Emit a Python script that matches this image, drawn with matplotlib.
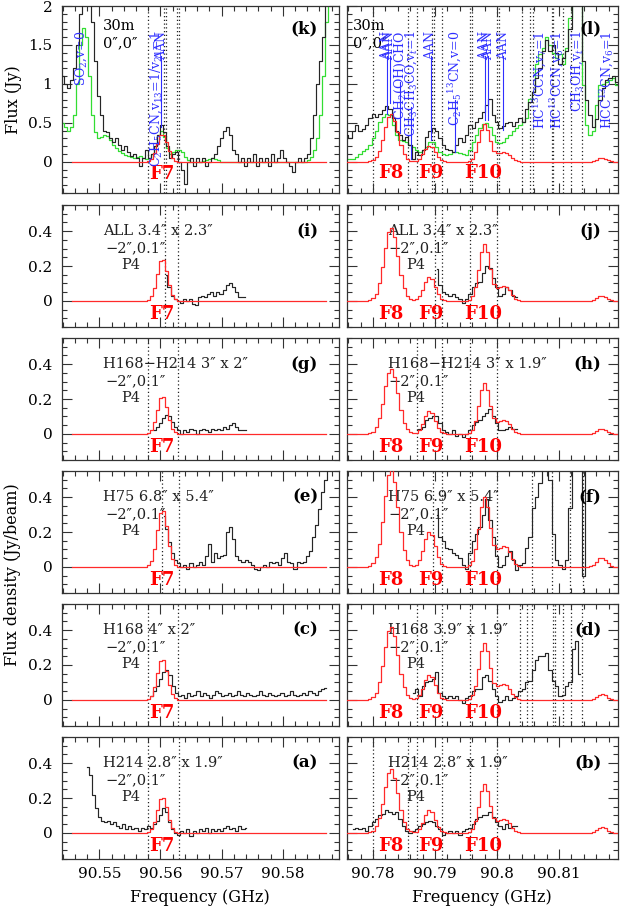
import numpy as np
import matplotlib
matplotlib.use('Agg')
import matplotlib.pyplot as plt
from matplotlib.ticker import MultipleLocator, FuncFormatter

plt.rcParams['font.family'] = ['DejaVu Serif', 'DejaVu Sans']
plt.rcParams['mathtext.fontset'] = 'dejavuserif'

# ---------------- data: left window (F7) ----------------
k_freq = (90.5439, 90.5892)
k_black = [1.1, 1.0, 0.95, 1.05, 1.2, 1.5, 1.9, 2.2, 2.2, 2.2, 1.8, 1.3, 0.85, 0.6, 0.4,
           0.38, 0.3, 0.25, 0.3, 0.22, 0.15, 0.2, 0.12, 0.08, 0.1, 0.05, -0.05, 0.05, 0.15,
           0.05, 0.1, 0.2, 0.35, 0.47, 0.38, 0.2, 0.05, 0.1, 0.13, 0.0, -0.1, -0.28, 0.0,
           0.05, -0.05, 0.05, 0.0, 0.05, -0.05, 0.0, 0.05, 0.1, 0.2, 0.3, 0.4, 0.45, 0.35,
           0.15, 0.1, 0.0, 0.05, -0.05, 0.05, 0.0, 0.1, -0.05, 0.05, 0.0, 0.05, -0.05, 0.1,
           0.0, 0.05, 0.15, 0.05, 0.0, -0.05, -0.13, 0.0, 0.05, 0.0, 0.05, 0.1, 0.3, 0.6,
           1.0, 1.3, 1.6, 2.2, 2.2, 2.2, 2.2, 2.2]
k_green = [0.5, 0.45, 0.4, 0.45, 0.6, 1.0, 1.5, 1.72, 1.6, 1.1, 0.6, 0.38, 0.3, 0.32, 0.35,
           0.33, 0.28, 0.22, 0.18, 0.14, 0.11, 0.09, 0.07, 0.06, 0.05, 0.06, 0.07, 0.05,
           0.03, 0.05, 0.1, 0.2, 0.35, 0.4, 0.32, 0.18, 0.1, 0.12, 0.15, 0.15, 0.12, 0.06,
           0.02, 0.0, 0.0, 0.0, 0.0, 0.01, 0.02, 0.04, 0.05, 0.04, 0.02, 0.0,
           0.0, 0.0, 0.0, 0.0, 0.0, 0.0, 0.0, 0.0, 0.0, 0.0, 0.0, 0.0, 0.0, 0.0,
           0.0, 0.0, 0.0, 0.0, 0.0, 0.0, 0.0, 0.0, 0.0, 0.0, 0.0, 0.0, 0.0, 0.0,
           0.02, 0.06, 0.15, 0.3, 0.6, 1.1, 1.8, 2.2, 2.2, 2.2, 2.2]

i_freq = (90.5609, 90.5739)
i_black = [0.15, 0.08, 0.03, 0.01, 0.0, -0.01, 0.01, 0.0, 0.01, -0.02, -0.025, 0.02, 0.03,
           0.02, 0.04, 0.05, 0.03, 0.05, 0.04, 0.06, 0.09, 0.105, 0.08, 0.05, 0.02, 0.02, 0.02]

g_freq = (90.5590, 90.5740)
g_black = [0.02, 0.04, 0.06, 0.09, 0.11, 0.1, 0.07, 0.04, 0.02, 0.0, 0.02, 0.01, 0.03, 0.02,
           0.0, 0.02, 0.03, 0.02, 0.01, 0.03, 0.02, 0.03, 0.02, 0.04, 0.03, 0.05, 0.06, 0.04,
           0.02, 0.02, 0.02]

e_freq = (90.5605, 90.5890)
e_black = [0.29, 0.22, 0.14, 0.08, 0.04, 0.02, 0.0, 0.01, -0.01, 0.02, 0.0, 0.01, 0.03, 0.01,
           0.06, 0.13, 0.03, 0.08, 0.05, 0.06, 0.07, 0.2, 0.23, 0.16, 0.06, 0.04, 0.03, 0.04,
           0.03, 0.01, -0.01, -0.02, 0.0, 0.01, 0.0, 0.03, 0.02, 0.03, 0.01, 0.05, 0.08, 0.03,
           0.02, -0.01, 0.03, 0.02, 0.03, 0.06, 0.09, 0.17, 0.24, 0.33, 0.43, 0.5, 0.62, 0.7,
           0.75, 0.8]

c_freq = (90.5585, 90.5870)
c_black = [0.02, 0.05, 0.08, 0.12, 0.16, 0.17, 0.14, 0.08, 0.04, 0.02, 0.03, 0.01, 0.04, 0.02,
           0.03, 0.05, 0.02, 0.04, 0.03, 0.01, 0.03, 0.05, 0.04, 0.02, 0.03, 0.04, 0.02, 0.03,
           0.05, 0.03, 0.02, 0.04, 0.03, 0.02, 0.03, 0.05, 0.03, 0.02, 0.04, 0.03, 0.02, 0.03,
           0.04, 0.02, 0.03, 0.05, 0.03, 0.02, 0.03, 0.04, 0.03, 0.05, 0.04, 0.03, 0.05, 0.06,
           0.07]

a_freq = (90.5480, 90.5740)
a_black = [0.38, 0.33, 0.22, 0.14, 0.09, 0.07, 0.06, 0.07, 0.05, 0.06, 0.04, 0.03, 0.05, 0.02,
           0.04, 0.02, 0.03, 0.01, 0.03, 0.02, 0.04, 0.03, 0.05, 0.07, 0.1, 0.14, 0.12, 0.06,
           0.02, 0.0, -0.01, 0.01, 0.0, 0.02, -0.02, 0.01, 0.0, 0.02, 0.01, 0.03, 0.0, 0.02,
           0.01, 0.02, 0.01, 0.03, 0.04, 0.02, 0.03, 0.01, 0.04, 0.02, 0.03]

# red model, left window: zero outside F7 block (block starts at 90.5570, step 0.0005)
red_left_span = (90.5455, 90.5870)
red_F7_start = 90.5570
red_k = [0, 0.002, 0.009, 0.038, 0.112, 0.231, 0.34, 0.35, 0.256, 0.133, 0.049, 0.013, 0.002, 0, 0]
red_i = [0, 0.001, 0.006, 0.026, 0.075, 0.154, 0.227, 0.234, 0.171, 0.089, 0.033, 0.008, 0.001, 0, 0]
red_g = [0, 0.001, 0.005, 0.023, 0.067, 0.139, 0.204, 0.21, 0.153, 0.08, 0.029, 0.008, 0.001, 0, 0]
red_e = [0, 0.001, 0.008, 0.035, 0.102, 0.21, 0.308, 0.318, 0.232, 0.121, 0.045, 0.011, 0.002, 0, 0]
red_c = [0, 0.001, 0.006, 0.025, 0.074, 0.152, 0.223, 0.23, 0.168, 0.087, 0.032, 0.008, 0.001, 0, 0]
red_a = [0, 0.001, 0.005, 0.022, 0.064, 0.132, 0.194, 0.2, 0.146, 0.076, 0.028, 0.007, 0.001, 0, 0]

# ---------------- data: right window (F8, F9, F10) ----------------
l_freq = (90.77576, 90.81931)
l_black = [0.34, 0.3, 0.4, 0.47, 0.4, 0.42, 0.47, 0.56, 0.62, 0.58, 0.62, 0.66, 0.72, 0.68,
           0.56, 0.4, 0.34, 0.28, 0.32, 0.21, 0.04, 0.13, 0.09, 0.15, 0.32, 0.39, 0.43, 0.4,
           0.3, 0.21, 0.17, 0.15, 0.13, 0.21, 0.3, 0.26, 0.34, 0.47, 0.43, 0.51, 0.56, 0.64,
           0.73, 0.81, 0.6, 0.51, 0.43, 0.46, 0.5, 0.51, 0.46, 0.51, 0.56, 0.51, 0.68, 0.77,
           0.9, 1.07, 1.2, 1.42, 1.56, 1.42, 1.5, 1.4, 1.25, 1.33, 1.42, 1.7, 2.2, 2.2, 2.2,
           1.3, 0.8, 0.6, 0.45, 0.55, 0.8, 0.95, 1.05, 1.07, 1.1, 1.03]
l_green = [0.04, 0.04, 0.04, 0.06, 0.1, 0.14, 0.17, 0.22, 0.3, 0.4, 0.51, 0.58, 0.62, 0.6,
           0.47, 0.34, 0.28, 0.27, 0.26, 0.22, 0.19, 0.15, 0.13, 0.15, 0.19, 0.25, 0.25, 0.19,
           0.13, 0.1, 0.09, 0.1, 0.13, 0.12, 0.11, 0.1, 0.09, 0.15, 0.26, 0.35, 0.43, 0.48,
           0.5, 0.45, 0.34, 0.26, 0.24, 0.26, 0.3, 0.34, 0.39, 0.43, 0.47, 0.51, 0.56, 0.81,
           0.9, 1.25, 1.38, 1.46, 1.6, 1.5, 1.4, 1.33, 1.38, 1.25, 1.46, 1.85, 2.2, 2.2, 2.2,
           0.98, 0.47, 0.34, 0.39, 0.73, 0.98, 1.0, 1.02, 1.05, 1.07, 0.98]

j_freq = (90.79027, 90.80317)
j_black = [0.18, 0.09, 0.05, 0.04, 0.03, 0.04, 0.02, 0.01, -0.01, 0.01, 0.04, 0.08, 0.1, 0.11,
           0.16, 0.2, 0.19, 0.13, 0.08, 0.03, 0.04, 0.08, 0.06, 0.03, 0.02]

h_freq = (90.78705, 90.80317)
h_black = [0.02, 0.03, 0.04, 0.08, 0.09, 0.1, 0.1, 0.06, 0.02, 0.01, 0.0, 0.02, -0.01, 0.0,
           -0.02, 0.0, 0.02, 0.05, 0.07, 0.08, 0.1, 0.12, 0.14, 0.1, 0.06, 0.02, 0.02, 0.03,
           0.04, 0.03, 0.03]

f_freq = (90.79027, 90.81447)
f_black = [0.3, 0.17, 0.15, 0.11, 0.1, 0.08, 0.07, 0.05, 0.01, -0.01, 0.08, 0.15, 0.19, 0.23,
           0.3, 0.39, 0.27, 0.17, 0.06, 0.0, 0.01, 0.06, 0.09, 0.04, -0.02, 0.01, 0.02, 0.11,
           0.17, 0.34, 0.4, 0.48, 0.6, 0.6, 0.5, 0.19, 0.04, 0.01, -0.01, 0.04, 0.34, 0.6,
           0.6, 0.6, -0.05, 0.6]

d_freq = (90.7865, 90.81339)
d_black = [0.04, 0.06, 0.02, 0.08, 0.1, 0.11, 0.12, 0.16, 0.04, 0.02, 0.01, 0.02, 0.01, 0.02,
           0.0, -0.02, 0.01, 0.02, 0.05, 0.06, 0.06, 0.13, 0.14, 0.11, 0.06, 0.02, -0.01, 0.0,
           0.02, 0.0, 0.01, 0.02, 0.05, 0.06, 0.1, 0.11, 0.17, 0.23, 0.25, 0.25, 0.27, 0.17,
           0.11, 0.08, 0.02, 0.03, 0.08, 0.1, 0.29, 0.34, 0.15]

b_freq = (90.77683, 90.80317)
b_black = [0.02, 0.03, 0.02, 0.03, 0.01, 0.04, 0.06, 0.08, 0.1, 0.11, 0.13, 0.12, 0.11, 0.12,
           0.08, 0.04, 0.01, 0.0, 0.01, 0.02, 0.04, 0.05, 0.06, 0.07, 0.06, 0.04, 0.02, -0.01,
           0.0, 0.01, 0.0, 0.01, -0.01, 0.01, 0.02, 0.03, 0.05, 0.08, 0.09, 0.1, 0.1, 0.12,
           0.09, 0.06, 0.04, 0.02, 0.05, 0.03, 0.04, 0.04]

# red model, right window (F8-F10 block from 90.7790, bump block from 90.8150; step 0.0005)
red_right_span = (90.7755, 90.8195)
red_FB_start = 90.7790
red_bump_start = 90.8150
red_l = [0.001, 0.006, 0.021, 0.062, 0.145, 0.279, 0.442, 0.572, 0.608, 0.528, 0.377, 0.22,
         0.105, 0.041, 0.014, 0.006, 0.012, 0.039, 0.095, 0.165, 0.209, 0.189, 0.123, 0.058,
         0.019, 0.005, 0.001, 0, 0, 0, 0, 0, 0.002, 0.01, 0.041, 0.12, 0.259, 0.411, 0.48,
         0.411, 0.265, 0.144, 0.107, 0.112, 0.122, 0.114, 0.084, 0.046, 0.018, 0.005, 0.001, 0, 0]
red_l_bump = [0.003, 0.011, 0.027, 0.044, 0.05, 0.038, 0.02, 0.007, 0.002]
red_j = [0.001, 0.004, 0.015, 0.042, 0.1, 0.192, 0.304, 0.394, 0.418, 0.364, 0.26, 0.151,
         0.072, 0.029, 0.009, 0.004, 0.008, 0.026, 0.063, 0.11, 0.139, 0.126, 0.082, 0.038,
         0.013, 0.003, 0.001, 0, 0, 0, 0, 0, 0.001, 0.007, 0.028, 0.081, 0.176, 0.279, 0.325,
         0.279, 0.18, 0.098, 0.075, 0.079, 0.086, 0.081, 0.06, 0.032, 0.013, 0.003, 0.001, 0, 0]
red_j_bump = [0.002, 0.007, 0.016, 0.026, 0.03, 0.023, 0.012, 0.004, 0.001]
red_h = [0.001, 0.004, 0.013, 0.038, 0.089, 0.172, 0.272, 0.352, 0.374, 0.325, 0.232, 0.135,
         0.065, 0.026, 0.008, 0.004, 0.007, 0.024, 0.059, 0.102, 0.129, 0.117, 0.076, 0.036,
         0.012, 0.003, 0.001, 0, 0, 0, 0, 0, 0.001, 0.006, 0.025, 0.073, 0.157, 0.249, 0.29,
         0.249, 0.161, 0.089, 0.069, 0.074, 0.081, 0.076, 0.056, 0.03, 0.012, 0.003, 0.001, 0, 0]
red_h_bump = [0.002, 0.007, 0.016, 0.026, 0.03, 0.023, 0.012, 0.004, 0.001]
red_f = [0.001, 0.006, 0.02, 0.057, 0.133, 0.256, 0.405, 0.525, 0.558, 0.485, 0.346, 0.202,
         0.096, 0.038, 0.013, 0.005, 0.012, 0.037, 0.09, 0.158, 0.199, 0.18, 0.117, 0.055,
         0.018, 0.004, 0.001, 0, 0, 0, 0, 0, 0.002, 0.008, 0.034, 0.1, 0.216, 0.343, 0.4,
         0.343, 0.222, 0.124, 0.1, 0.11, 0.122, 0.114, 0.084, 0.046, 0.018, 0.005, 0.001, 0, 0]
red_f_bump = [0.003, 0.012, 0.029, 0.048, 0.053, 0.041, 0.021, 0.007, 0.002]
red_d = [0.001, 0.004, 0.015, 0.042, 0.1, 0.192, 0.304, 0.394, 0.418, 0.364, 0.26, 0.151,
         0.072, 0.029, 0.009, 0.004, 0.008, 0.026, 0.064, 0.113, 0.142, 0.129, 0.084, 0.039,
         0.013, 0.003, 0.001, 0, 0, 0, 0, 0, 0.001, 0.007, 0.028, 0.081, 0.175, 0.278, 0.324,
         0.278, 0.18, 0.099, 0.078, 0.084, 0.091, 0.086, 0.063, 0.034, 0.014, 0.004, 0.001, 0, 0]
red_d_bump = [0.002, 0.007, 0.018, 0.03, 0.034, 0.026, 0.013, 0.005, 0.001]
red_b = [0.001, 0.004, 0.013, 0.037, 0.087, 0.168, 0.265, 0.343, 0.365, 0.317, 0.226, 0.132,
         0.063, 0.025, 0.008, 0.004, 0.007, 0.024, 0.059, 0.102, 0.129, 0.117, 0.076, 0.036,
         0.012, 0.003, 0.001, 0, 0, 0, 0, 0, 0.001, 0.006, 0.024, 0.07, 0.151, 0.24, 0.28,
         0.24, 0.155, 0.086, 0.068, 0.074, 0.081, 0.076, 0.056, 0.03, 0.012, 0.003, 0.001, 0, 0]
red_b_bump = [0.002, 0.007, 0.018, 0.03, 0.034, 0.026, 0.013, 0.005, 0.001]

# dotted markers (GHz)
dots_k = [90.5579, 90.5605, 90.5609, 90.5627, 90.5630]
dots_i = [90.5608, 90.5628]
dots_g = [90.5579, 90.5628]
dots_e = [90.5603, 90.5630]
dots_c = [90.5579, 90.5628]
dots_a = [90.5579, 90.5630]
dots_l = [90.78, 90.7856, 90.7871, 90.7895, 90.7898, 90.7911, 90.7956, 90.7959, 90.8, 90.8003,
          90.8040, 90.8053, 90.8058, 90.8088, 90.8090, 90.8106, 90.8119, 90.8137]
dots_j = [90.79, 90.7911, 90.7956, 90.8]
dots_h = [90.7871, 90.7911, 90.7956, 90.8]
dots_f = [90.7896, 90.7911, 90.7956, 90.8, 90.8056, 90.8088, 90.8118, 90.8139]
dots_d = [90.7871, 90.7911, 90.7956, 90.8, 90.8037, 90.8048, 90.8056, 90.8090, 90.8093,
          90.8106, 90.8119, 90.8137]
dots_b = [90.78, 90.7856, 90.7871, 90.7911, 90.7956, 90.8]

# line identifications (freq, label, line top, line bottom) in Jy
ids_k = [(90.54705, r'SO$_2$,v=0', None, None),
         (90.55934, r'C$_2$H$_5$CN,v$_{13}$=1/v$_{21}$=1', None, None),
         (90.56016, 'AAN', 1.36, 0.45)]
ids_l = [(90.78221, 'AAN', 1.36, 0.61),
         (90.78274, 'AAN', 1.36, 0.76),
         (90.78435, r'CH$_2$(OH)CHO', 1.03, 0.37),
         (90.78613, r'CH$_3$CH$_3$CO,v$_t$=1', 0.70, 0.03),
         (90.78935, 'AAN', 1.36, 0.28),
         (90.79323, r'C$_2$H$_5$$^{13}$CN,v=0', 0.80, 0.13),
         (90.79806, 'AAN', 1.36, 0.54),
         (90.79855, 'AAN', 1.36, 0.54),
         (90.80097, 'AAN', 1.36, 0.41),
         (90.80694, r'HC$^{13}$CCN,v$_7$=1', None, None),
         (90.80968, r'HC$^{13}$CCN,v$_6$=1', None, None),
         (90.81290, r'CH$_3$OH,v$_t$=1', None, None),
         (90.81774, r'HCC$^{13}$CN,v$_6$=1', None, None)]

info = {
    'i': ['ALL 3.4\u2033 x 2.3\u2033'], 'j': ['ALL 3.4\u2033 x 2.3\u2033'],
    'g': ['H168\u2212H214 3\u2033 x 2\u2033'], 'h': ['H168\u2212H214 3\u2033 x 1.9\u2033'],
    'e': ['H75 6.8\u2033 x 5.4\u2033'], 'f': ['H75 6.9\u2033 x 5.4\u2033'],
    'c': ['H168 4\u2033 x 2\u2033'], 'd': ['H168 3.9\u2033 x 1.9\u2033'],
    'a': ['H214 2.8\u2033 x 1.9\u2033'], 'b': ['H214 2.8\u2033 x 1.9\u2033'],
}

# ---------------- figure ----------------
W, H = 620, 909
fig = plt.figure(figsize=(W / 100, H / 100), dpi=100)

BLACK = '#262626'
RED = '#ff2a2a'
GREEN = '#33dd33'
BLUE = '#2f2fff'


def add_ax(x0, y0, x1, y1):
    return fig.add_axes([x0 / W, 1 - y1 / H, (x1 - x0) / W, (y1 - y0) / H])


def model(span, pieces):
    f = np.round(np.arange(span[0], span[1] + 1e-7, 0.0005), 5)
    v = np.zeros_like(f)
    for start, vals in pieces:
        i0 = int(round((start - span[0]) / 0.0005))
        v[i0:i0 + len(vals)] = vals
    return f, v


def steps(ax, span, vals, color, lw=0.85, z=2):
    f = np.linspace(span[0], span[1], len(vals))
    ax.plot(f, vals, drawstyle='steps-mid', color=color, lw=lw, zorder=z)


fmt_x = FuncFormatter(lambda v, p: ('%.2f' % v).rstrip('0'))
fmt_y = FuncFormatter(lambda v, p: '%g' % round(v, 3))


def style(ax, left, top, bottom):
    if left:
        ax.set_xlim(90.5439, 90.5892)
    else:
        ax.set_xlim(90.7758, 90.8195)
    if top:
        ax.set_ylim(-0.4, 2.0)
        ax.yaxis.set_major_locator(MultipleLocator(0.5))
        ax.yaxis.set_minor_locator(MultipleLocator(0.1))
    else:
        ax.set_ylim(-0.15, 0.55)
        ax.yaxis.set_major_locator(MultipleLocator(0.2))
        ax.yaxis.set_minor_locator(MultipleLocator(0.05))
    ax.xaxis.set_major_locator(MultipleLocator(0.01))
    ax.xaxis.set_minor_locator(MultipleLocator(0.002))
    ax.xaxis.set_major_formatter(fmt_x)
    ax.yaxis.set_major_formatter(fmt_y)
    ax.tick_params(which='both', direction='in', top=True, right=True,
                   labelsize=11, color='#333333', width=0.8)
    ax.tick_params(which='major', length=7)
    ax.tick_params(which='minor', length=3.5)
    ax.tick_params(axis='y', pad=7)
    ax.tick_params(axis='x', pad=6)
    ax.tick_params(labelleft=left, labelbottom=bottom)
    for s in ax.spines.values():
        s.set_linewidth(0.9)
        s.set_color('#333333')


LX0, LX1, RX0, RX1 = 62, 339, 347, 618
rows = [(6, 193)] + [(t, t + 122) for t in (205, 338, 471, 604, 737)]

left_panels = [('k', k_freq, k_black, red_k, dots_k),
               ('i', i_freq, i_black, red_i, dots_i),
               ('g', g_freq, g_black, red_g, dots_g),
               ('e', e_freq, e_black, red_e, dots_e),
               ('c', c_freq, c_black, red_c, dots_c),
               ('a', a_freq, a_black, red_a, dots_a)]
right_panels = [('l', l_freq, l_black, red_l, red_l_bump, dots_l),
                ('j', j_freq, j_black, red_j, red_j_bump, dots_j),
                ('h', h_freq, h_black, red_h, red_h_bump, dots_h),
                ('f', f_freq, f_black, red_f, red_f_bump, dots_f),
                ('d', d_freq, d_black, red_d, red_d_bump, dots_d),
                ('b', b_freq, b_black, red_b, red_b_bump, dots_b)]

FLAB = dict(color='red', fontweight='bold', fontsize=13, ha='center', va='center')


def info_text(ax, key):
    tr = ax.get_yaxis_transform()
    ax.text(0.148, 0.40, info[key][0], transform=tr, fontsize=10.5, va='center', color='#222222')
    ax.text(0.155, 0.30, '\u22122\u2033,0.1\u2033', transform=tr, fontsize=10.5, va='center', color='#222222')
    ax.text(0.215, 0.205, 'P4', transform=tr, fontsize=10.5, va='center', color='#222222')


def ids(ax, items):
    for f, lab, ltop, lbot in items:
        ax.text(f, 1.68, lab, rotation=90, color=BLUE, fontsize=9, ha='center', va='top',
                zorder=5)
        if ltop is not None:
            ax.plot([f, f], [lbot, ltop], color=BLUE, lw=0.8, zorder=4)


for r, (key, span, blk, red, dots) in enumerate(left_panels):
    y0, y1 = rows[r]
    ax = add_ax(LX0, y0, LX1, y1)
    style(ax, True, r == 0, r == 5)
    for d in dots:
        ax.axvline(d, color='#222222', ls=(0, (1, 2)), lw=0.9, zorder=1)
    if r == 0:
        steps(ax, span, k_green, GREEN, lw=0.9, z=2)
    steps(ax, span, blk, BLACK, lw=0.85, z=3)
    fr, vr = model(red_left_span, [(red_F7_start, red)])
    ax.plot(fr, vr, drawstyle='steps-mid', color=RED, lw=0.9, zorder=4)
    if r == 0:
        ax.text(90.5603, -0.15, 'F7', **FLAB)
        tr = ax.get_yaxis_transform()
        ax.text(0.148, 1.74, '30m', transform=tr, fontsize=10.5, va='center')
        ax.text(0.148, 1.52, '0\u2033,0\u2033', transform=tr, fontsize=10.5, va='center')
        ax.text(0.925, 1.70, '(k)', transform=tr, fontsize=12, fontweight='bold',
                ha='right', va='center')
        ids(ax, ids_k)
    else:
        ax.text(90.5603, -0.075, 'F7', **FLAB)
        info_text(ax, key)
        ax.text(0.925, 0.40, '(%s)' % key, transform=ax.get_yaxis_transform(), fontsize=12,
                fontweight='bold', ha='right', va='center')

for r, (key, span, blk, red, bump, dots) in enumerate(right_panels):
    y0, y1 = rows[r]
    ax = add_ax(RX0, y0, RX1, y1)
    style(ax, False, r == 0, r == 5)
    for d in dots:
        ax.axvline(d, color='#222222', ls=(0, (1, 2)), lw=0.9, zorder=1)
    if r == 0:
        steps(ax, span, l_green, GREEN, lw=0.9, z=2)
    steps(ax, span, blk, BLACK, lw=0.85, z=3)
    fr, vr = model(red_right_span, [(red_FB_start, red), (red_bump_start, bump)])
    ax.plot(fr, vr, drawstyle='steps-mid', color=RED, lw=0.9, zorder=4)
    yf = -0.14 if r == 0 else -0.075
    ax.text(90.7828, yf, 'F8', **FLAB)
    ax.text(90.7893, yf, 'F9', **FLAB)
    ax.text(90.7977, yf, 'F10', **FLAB)
    if r == 0:
        tr = ax.get_yaxis_transform()
        ax.text(0.022, 1.74, '30m', transform=tr, fontsize=10.5, va='center')
        ax.text(0.022, 1.52, '0\u2033,0\u2033', transform=tr, fontsize=10.5, va='center')
        ax.text(0.94, 1.70, '(l)', transform=tr, fontsize=12, fontweight='bold',
                ha='right', va='center', zorder=6)
        ids(ax, ids_l)
    else:
        tr = ax.get_yaxis_transform()
        ax.text(0.151, 0.40, info[key][0], transform=tr, fontsize=10.5, va='center', color='#222222')
        ax.text(0.151, 0.30, '\u22122\u2033,0.1\u2033', transform=tr, fontsize=10.5, va='center', color='#222222')
        ax.text(0.218, 0.205, 'P4', transform=tr, fontsize=10.5, va='center', color='#222222')
        ax.text(0.94, 0.40, '(%s)' % key, transform=tr, fontsize=12, fontweight='bold',
                ha='right', va='center')

fig.text(13 / W, 1 - 100 / H, 'Flux (Jy)', rotation=90, ha='center', va='center', fontsize=11.5)
fig.text(13 / W, 1 - 575 / H, 'Flux density (Jy/beam)', rotation=90, ha='center', va='center',
         fontsize=11.5)
fig.text(200 / W, 1 - 897 / H, 'Frequency (GHz)', ha='center', va='center', fontsize=11.5)
fig.text(482 / W, 1 - 897 / H, 'Frequency (GHz)', ha='center', va='center', fontsize=11.5)

fig.savefig('out.png', dpi=100)
